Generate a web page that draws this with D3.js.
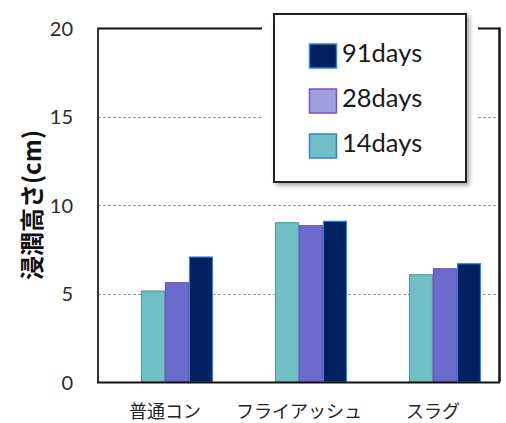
<!DOCTYPE html>
<html>
<head>
<meta charset="utf-8">
<script src="https://cdn.jsdelivr.net/npm/d3@7"></script>
<style>
  html, body { margin: 0; padding: 0; background: #fff; }
  svg { display: block; }
</style>
</head>
<body>
<svg id="chart" width="506" height="423"></svg>
<script>
// Categories and measured penetration heights (cm) per curing age
const categories = ["普通コン", "フライアッシュ", "スラグ"];
const seriesNames = ["14days", "28days", "91days"];
const days14 = [5.14, 9.0, 6.06];
const days28 = [5.61, 8.83, 6.40];
const days91 = [7.06, 9.08, 6.68];
const yTicks = [0, 5, 10, 15, 20];
const yTitle = "浸潤高さ(cm)";

const seriesValues = { "14days": days14, "28days": days28, "91days": days91 };
const barFill = { "14days": "#72bfc5", "28days": "#6b6bcd", "91days": "#002060" };
const barStroke = { "14days": "#4f9ea4", "28days": "#7b50c0", "91days": "#2f86cc" };
const swatchFill = { "14days": "#72bfc5", "28days": "#a09fdf", "91days": "#002060" };
const swatchStroke = { "14days": "#2f86cc", "28days": "#7f50c0", "91days": "#2f86cc" };

const svg = d3.select("#chart");
const plot = { left: 98, top: 28, right: 500, bottom: 382 };

const defs = svg.append("defs");
const f = defs.append("filter").attr("id", "shadow")
  .attr("x", "-10%").attr("y", "-10%").attr("width", "130%").attr("height", "130%");
f.append("feDropShadow").attr("dx", 2.5).attr("dy", 2.5)
  .attr("stdDeviation", 2).attr("flood-color", "#000").attr("flood-opacity", 0.35);

const y = d3.scaleLinear().domain([0, 20]).range([plot.bottom, plot.top]);
const x0 = d3.scaleBand().domain(categories)
  .range([plot.left, plot.right])
  .paddingInner(0.2836).paddingOuter(0.1418);
// first slot of each cluster is left empty, as in the original layout
const x1 = d3.scaleBand().domain(["_spacer", ...seriesNames])
  .range([0, x0.bandwidth()]);

// dashed gridlines
svg.append("g").selectAll("line")
  .data(yTicks.filter(t => t > 0 && t < 20))
  .join("line")
  .attr("x1", plot.left).attr("x2", plot.right)
  .attr("y1", d => Math.round(y(d)) + 0.5).attr("y2", d => Math.round(y(d)) + 0.5)
  .attr("stroke", "#9a9a9a").attr("stroke-width", 1)
  .attr("stroke-dasharray", "3,2");

// frame: top and right edges
svg.append("line").attr("x1", plot.left).attr("x2", plot.right)
  .attr("y1", plot.top + 0.5).attr("y2", plot.top + 0.5)
  .attr("stroke", "#111").attr("stroke-width", 2);
svg.append("line").attr("x1", plot.right - 0.5).attr("x2", plot.right - 0.5)
  .attr("y1", plot.top - 0.5).attr("y2", plot.bottom)
  .attr("stroke", "#111").attr("stroke-width", 2.5);

// bars
const groups = svg.append("g").selectAll("g")
  .data(categories)
  .join("g")
  .attr("transform", d => `translate(${x0(d)},0)`);
groups.selectAll("rect")
  .data((c, i) => seriesNames.map(s => ({ s, v: seriesValues[s][i] })))
  .join("rect")
  .attr("x", d => x1(d.s) + 0.5)
  .attr("width", x1.bandwidth() - 1)
  .attr("y", d => y(d.v))
  .attr("height", d => y(0) - y(d.v))
  .attr("fill", d => barFill[d.s])
  .attr("stroke", d => barStroke[d.s])
  .attr("stroke-width", 1.2);

// left and bottom axis lines
svg.append("line").attr("x1", plot.left).attr("x2", plot.left)
  .attr("y1", plot.top - 0.5).attr("y2", plot.bottom + 1)
  .attr("stroke", "#333").attr("stroke-width", 2);
svg.append("line").attr("x1", plot.left - 1).attr("x2", plot.right)
  .attr("y1", plot.bottom + 0.5).attr("y2", plot.bottom + 0.5)
  .attr("stroke", "#111").attr("stroke-width", 2.2);

// y tick labels
const yAxis = d3.axisLeft(y).tickValues(yTicks).tickSize(0).tickPadding(0);
const gy = svg.append("g").attr("transform", `translate(73,0)`).call(yAxis);
gy.select(".domain").remove();
gy.selectAll("text")
  .attr("font-family", "Lato, 'Open Sans', sans-serif")
  .attr("font-size", 20)
  .attr("fill", "#2a2a2a")
  .attr("dy", "0.36em");

// x category labels
const xAxis = d3.axisBottom(x0).tickSize(0).tickPadding(0);
const gx = svg.append("g").attr("transform", `translate(0,${plot.bottom})`).call(xAxis);
gx.select(".domain").remove();
gx.selectAll("text")
  .attr("font-family", "'Noto Sans CJK JP', sans-serif")
  .attr("font-size", 18)
  .attr("fill", "#222")
  .attr("y", 36)
  .attr("dy", 0);

// y axis title
svg.append("text")
  .attr("transform", "translate(30,205) rotate(-90)")
  .attr("text-anchor", "middle")
  .attr("dominant-baseline", "central")
  .attr("font-family", "'Noto Sans CJK JP', sans-serif")
  .attr("font-weight", "bold")
  .attr("font-size", 24)
  .attr("fill", "#111")
  .text(yTitle);

// legend
const legendOrder = seriesNames.slice().reverse();
svg.append("rect").attr("x", 262).attr("y", 2).attr("width", 216).attr("height", 192)
  .attr("fill", "#fff");
svg.append("rect").attr("x", 274).attr("y", 14).attr("width", 192).attr("height", 168)
  .attr("fill", "#fff").attr("stroke", "#222").attr("stroke-width", 2)
  .attr("filter", "url(#shadow)");
const lg = svg.append("g").selectAll("g")
  .data(legendOrder)
  .join("g")
  .attr("transform", (d, i) => `translate(0,${i * 45})`);
lg.append("rect")
  .attr("x", 309.5).attr("y", 44)
  .attr("width", 27).attr("height", 24)
  .attr("fill", d => swatchFill[d])
  .attr("stroke", d => swatchStroke[d])
  .attr("stroke-width", 1.5);
lg.append("text")
  .attr("x", 342).attr("y", 62)
  .attr("font-family", "Lato, 'Open Sans', sans-serif")
  .attr("font-size", 25.5)
  .attr("fill", "#1a1a1a")
  .text(d => d);
</script>
</body>
</html>
